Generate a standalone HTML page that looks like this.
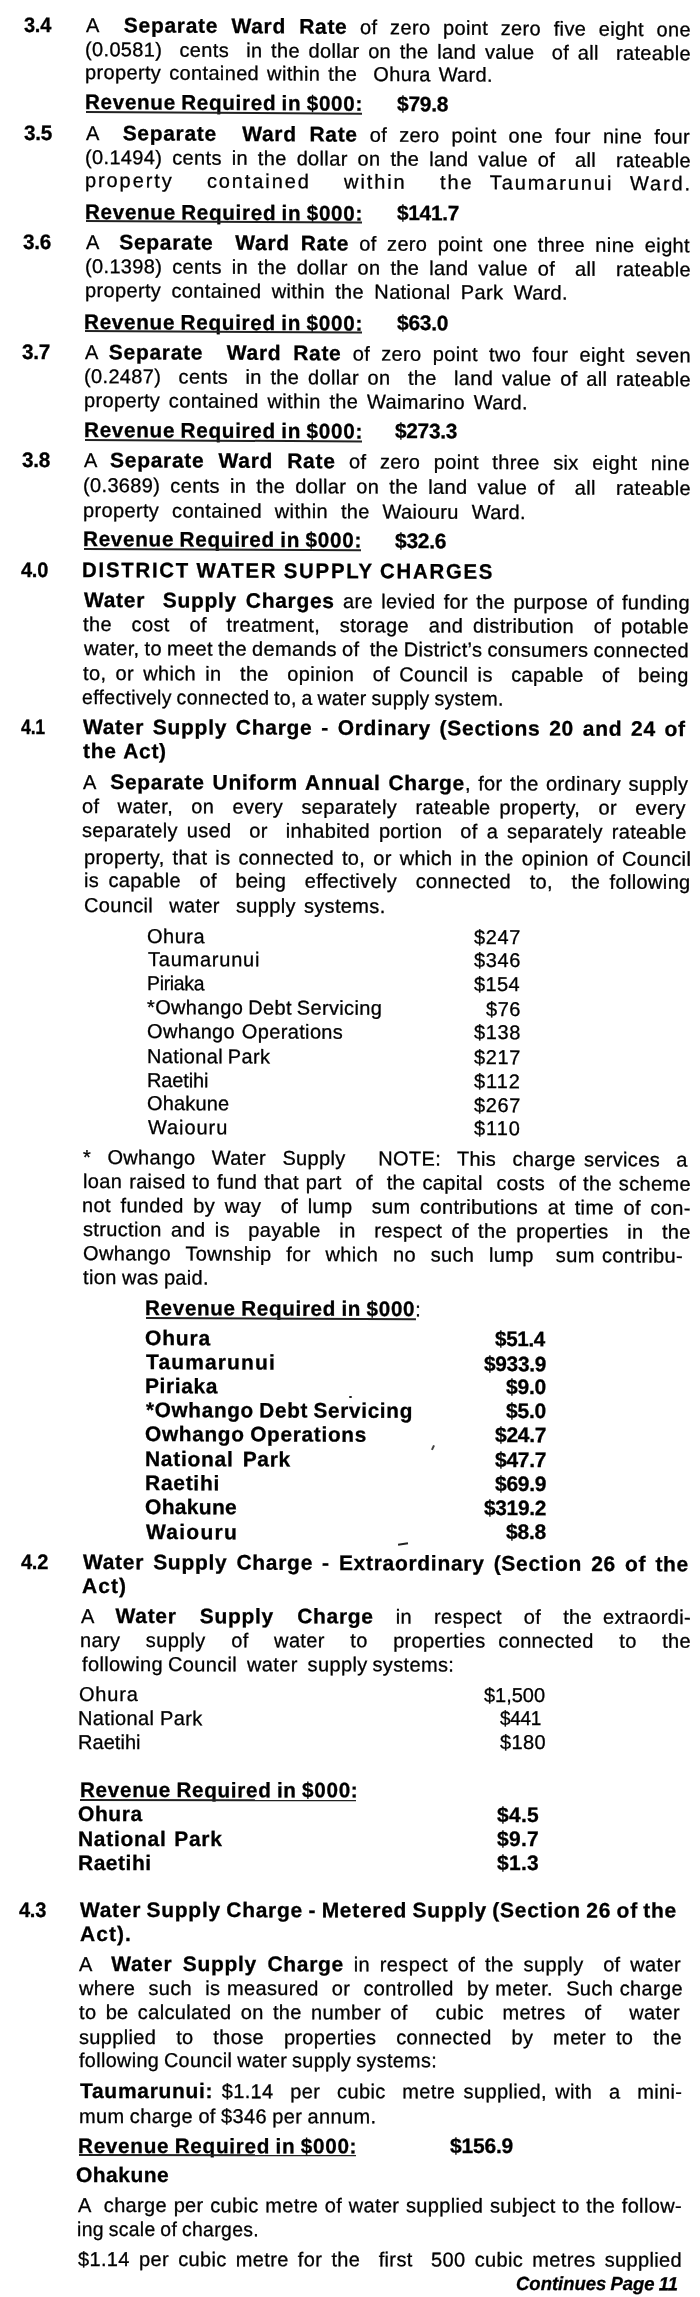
<!DOCTYPE html><html><head><meta charset="utf-8"><style>
html,body{margin:0;padding:0;background:#fff}
body{filter:grayscale(1);width:700px;height:2297px;position:relative;overflow:hidden;font-family:"Liberation Sans",sans-serif;color:#000}
.l{position:absolute;white-space:pre;transform-origin:0 17px;font-size:20px;line-height:20px;-webkit-text-stroke:0.3px #000}
.l b{font-weight:bold;font-size:21px}
.bi{font-weight:bold;font-style:italic;font-size:19px}
.u{position:absolute;background:#222;transform-origin:0 0}
.dot{position:absolute;background:#999;border-radius:50%}
</style></head><body>
<div class="l" style="left:24.00px;top:14.90px;word-spacing:0.000px;transform:skewY(0.4154deg) scaleX(0.9540)"><b style="letter-spacing:-0.300px">3.4</b></div>
<div class="l" style="left:86.00px;top:14.90px;word-spacing:6.713px;transform:skewY(0.4154deg)"><span style="letter-spacing:0.350px">A  </span><b style="letter-spacing:0.700px">Separate Ward Rate</b><span style="letter-spacing:0.350px"> of zero point zero five eight one</span></div>
<div class="l" style="left:85.00px;top:38.70px;word-spacing:2.688px;transform:skewY(0.3988deg)"><span style="letter-spacing:0.350px">(0.0581)  cents  in the dollar on the land value  of all  rateable</span></div>
<div class="l" style="left:85.00px;top:61.60px;word-spacing:2.120px;transform:skewY(0.3829deg)"><span style="letter-spacing:0.350px">property contained within the  Ohura Ward.</span></div>
<div class="l" style="left:85.00px;top:92.00px;word-spacing:-1.000px;transform:skewY(0.3618deg) scaleX(0.9825)"><b style="letter-spacing:0.700px">Revenue Required in $000:</b></div>
<div class="l" style="left:397.00px;top:93.94px;word-spacing:0.000px;transform:skewY(0.3618deg)"><b style="letter-spacing:-0.300px">$79.8</b></div>
<div class="l" style="left:24.00px;top:122.70px;word-spacing:0.000px;transform:skewY(0.3405deg) scaleX(0.9893)"><b style="letter-spacing:-0.300px">3.5</b></div>
<div class="l" style="left:86.00px;top:122.70px;word-spacing:6.109px;transform:skewY(0.3405deg)"><span style="letter-spacing:0.350px">A  </span><b style="letter-spacing:0.700px">Separate  Ward Rate</b><span style="letter-spacing:0.350px"> of zero point one four nine four</span></div>
<div class="l" style="left:85.00px;top:147.00px;word-spacing:4.010px;transform:skewY(0.3236deg)"><span style="letter-spacing:0.350px">(0.1494) cents in the dollar on the land value of  all  rateable</span></div>
<div class="l" style="left:85.00px;top:170.40px;word-spacing:9.208px;transform:skewY(0.3207deg)"><span style="letter-spacing:1.900px">property  contained  within  the Taumarunui Ward.</span></div>
<div class="l" style="left:85.00px;top:201.50px;word-spacing:-1.000px;transform:skewY(0.3176deg) scaleX(0.9825)"><b style="letter-spacing:0.700px">Revenue Required in $000:</b></div>
<div class="l" style="left:397.00px;top:203.20px;word-spacing:0.000px;transform:skewY(0.3176deg) scaleX(0.9930)"><b style="letter-spacing:-0.300px">$141.7</b></div>
<div class="l" style="left:23.00px;top:232.00px;word-spacing:0.000px;transform:skewY(0.3146deg) scaleX(0.9893)"><b style="letter-spacing:-0.300px">3.6</b></div>
<div class="l" style="left:86.00px;top:232.00px;word-spacing:4.381px;transform:skewY(0.3146deg)"><span style="letter-spacing:0.350px">A  </span><b style="letter-spacing:0.700px">Separate  Ward Rate</b><span style="letter-spacing:0.350px"> of zero point one three nine eight</span></div>
<div class="l" style="left:85.00px;top:256.00px;word-spacing:4.010px;transform:skewY(0.3122deg)"><span style="letter-spacing:0.350px">(0.1398) cents in the dollar on the land value of  all  rateable</span></div>
<div class="l" style="left:85.00px;top:280.00px;word-spacing:4.394px;transform:skewY(0.3098deg)"><span style="letter-spacing:0.350px">property contained within the National Park Ward.</span></div>
<div class="l" style="left:84.00px;top:311.60px;word-spacing:-1.000px;transform:skewY(0.3067deg) scaleX(0.9861)"><b style="letter-spacing:0.700px">Revenue Required in $000:</b></div>
<div class="l" style="left:397.00px;top:313.24px;word-spacing:0.000px;transform:skewY(0.3067deg)"><b style="letter-spacing:-0.300px">$63.0</b></div>
<div class="l" style="left:22.00px;top:342.00px;word-spacing:0.000px;transform:skewY(0.3037deg) scaleX(0.9893)"><b style="letter-spacing:-0.300px">3.7</b></div>
<div class="l" style="left:85.00px;top:342.00px;word-spacing:5.300px;transform:skewY(0.3037deg)"><span style="letter-spacing:0.350px">A </span><b style="letter-spacing:0.700px">Separate  Ward Rate</b><span style="letter-spacing:0.350px"> of zero point two four eight seven</span></div>
<div class="l" style="left:84.00px;top:365.90px;word-spacing:2.755px;transform:skewY(0.3013deg)"><span style="letter-spacing:0.350px">(0.2487)  cents  in the dollar on  the  land value of all rateable</span></div>
<div class="l" style="left:84.00px;top:389.90px;word-spacing:2.797px;transform:skewY(0.2989deg)"><span style="letter-spacing:0.350px">property contained within the Waimarino Ward.</span></div>
<div class="l" style="left:84.00px;top:419.90px;word-spacing:-1.000px;transform:skewY(0.2960deg) scaleX(0.9861)"><b style="letter-spacing:0.700px">Revenue Required in $000:</b></div>
<div class="l" style="left:395.00px;top:421.48px;word-spacing:0.000px;transform:skewY(0.2960deg) scaleX(0.9930)"><b style="letter-spacing:-0.300px">$273.3</b></div>
<div class="l" style="left:22.00px;top:450.10px;word-spacing:0.000px;transform:skewY(0.2930deg) scaleX(0.9893)"><b style="letter-spacing:-0.300px">3.8</b></div>
<div class="l" style="left:84.00px;top:450.10px;word-spacing:7.597px;transform:skewY(0.2930deg)"><span style="letter-spacing:0.350px">A </span><b style="letter-spacing:0.700px">Separate Ward Rate</b><span style="letter-spacing:0.350px"> of zero point three six eight nine</span></div>
<div class="l" style="left:83.00px;top:474.90px;word-spacing:4.164px;transform:skewY(0.2864deg)"><span style="letter-spacing:0.350px">(0.3689) cents in the dollar on the land value of  all  rateable</span></div>
<div class="l" style="left:83.00px;top:499.70px;word-spacing:6.959px;transform:skewY(0.2755deg)"><span style="letter-spacing:0.350px">property contained within the Waiouru Ward.</span></div>
<div class="l" style="left:83.00px;top:529.40px;word-spacing:-1.000px;transform:skewY(0.2623deg) scaleX(0.9861)"><b style="letter-spacing:0.700px">Revenue Required in $000:</b></div>
<div class="l" style="left:395.00px;top:530.80px;word-spacing:0.000px;transform:skewY(0.2623deg)"><b style="letter-spacing:-0.300px">$32.6</b></div>
<div class="l" style="left:21.00px;top:559.90px;word-spacing:0.000px;transform:skewY(0.2489deg) scaleX(0.9540)"><b style="letter-spacing:-0.300px">4.0</b></div>
<div class="l" style="left:81.80px;top:559.90px;word-spacing:-1.000px;transform:skewY(0.2489deg) scaleX(0.9710)"><b style="letter-spacing:1.800px">DISTRICT WATER SUPPLY CHARGES</b></div>
<div class="l" style="left:84.00px;top:590.40px;word-spacing:2.311px;transform:skewY(0.2354deg)"><b style="letter-spacing:0.700px">Water  Supply Charges</b><span style="letter-spacing:0.350px"> are levied for the purpose of funding</span></div>
<div class="l" style="left:83.00px;top:614.10px;word-spacing:3.965px;transform:skewY(0.2249deg)"><span style="letter-spacing:0.350px">the  cost  of  treatment,  storage  and distribution  of potable</span></div>
<div class="l" style="left:84.00px;top:638.40px;word-spacing:-0.767px;transform:skewY(0.2158deg)"><span style="letter-spacing:0.350px">water, to meet the demands of  the District’s consumers connected</span></div>
<div class="l" style="left:83.40px;top:662.70px;word-spacing:3.307px;transform:skewY(0.2090deg)"><span style="letter-spacing:0.350px">to, or which in  the  opinion  of Council is  capable  of  being</span></div>
<div class="l" style="left:82.20px;top:686.60px;word-spacing:-1.000px;transform:skewY(0.2023deg) scaleX(0.9719)"><span style="letter-spacing:0.350px">effectively connected to, a water supply system.</span></div>
<div class="l" style="left:21.00px;top:716.90px;word-spacing:0.000px;transform:skewY(0.1937deg) scaleX(0.8480)"><b style="letter-spacing:-0.300px">4.1</b></div>
<div class="l" style="left:83.20px;top:716.90px;word-spacing:2.262px;transform:skewY(0.1937deg)"><b style="letter-spacing:0.700px">Water Supply Charge - Ordinary (Sections 20 and 24 of</b></div>
<div class="l" style="left:83.20px;top:740.90px;word-spacing:0.809px;transform:skewY(0.1870deg)"><b style="letter-spacing:0.700px">the Act)</b></div>
<div class="l" style="left:82.60px;top:771.60px;word-spacing:1.421px;transform:skewY(0.1783deg)"><span style="letter-spacing:0.350px">A  </span><b style="letter-spacing:0.700px">Separate Uniform Annual Charge</b><span style="letter-spacing:0.350px">, for the ordinary supply</span></div>
<div class="l" style="left:82.20px;top:795.90px;word-spacing:3.211px;transform:skewY(0.1715deg)"><span style="letter-spacing:0.350px">of  water,  on  every  separately  rateable property,  or  every</span></div>
<div class="l" style="left:82.20px;top:819.90px;word-spacing:3.014px;transform:skewY(0.1684deg)"><span style="letter-spacing:0.350px">separately used  or  inhabited portion  of a separately rateable</span></div>
<div class="l" style="left:83.80px;top:847.30px;word-spacing:2.093px;transform:skewY(0.1751deg)"><span style="letter-spacing:0.350px">property, that is connected to, or which in the opinion of Council</span></div>
<div class="l" style="left:84.40px;top:870.40px;word-spacing:3.372px;transform:skewY(0.1807deg)"><span style="letter-spacing:0.350px">is capable  of  being  effectively  connected  to,  the following</span></div>
<div class="l" style="left:84.40px;top:895.10px;word-spacing:2.128px;transform:skewY(0.1868deg)"><span style="letter-spacing:0.350px">Council  water  supply systems.</span></div>
<div class="l" style="left:146.80px;top:925.90px;word-spacing:0.000px;transform:skewY(0.1944deg)"><span style="letter-spacing:0.521px">Ohura</span></div>
<div class="l" style="left:474.00px;top:927.00px;word-spacing:0.000px;transform:skewY(0.1944deg)"><span style="letter-spacing:0.625px">$247</span></div>
<div class="l" style="left:147.80px;top:949.10px;word-spacing:0.000px;transform:skewY(0.2000deg)"><span style="letter-spacing:0.768px">Taumarunui</span></div>
<div class="l" style="left:474.00px;top:950.23px;word-spacing:0.000px;transform:skewY(0.2000deg)"><span style="letter-spacing:0.625px">$346</span></div>
<div class="l" style="left:146.80px;top:973.00px;word-spacing:0.000px;transform:skewY(0.2059deg) scaleX(0.9688)"><span style="letter-spacing:-0.300px">Piriaka</span></div>
<div class="l" style="left:474.00px;top:974.16px;word-spacing:0.000px;transform:skewY(0.2059deg)"><span style="letter-spacing:0.375px">$154</span></div>
<div class="l" style="left:146.80px;top:997.30px;word-spacing:-0.933px;transform:skewY(0.2118deg)"><span style="letter-spacing:0.350px">*Owhango Debt Servicing</span></div>
<div class="l" style="left:486.00px;top:998.54px;word-spacing:0.000px;transform:skewY(0.2118deg)"><span style="letter-spacing:0.542px">$76</span></div>
<div class="l" style="left:146.80px;top:1020.90px;word-spacing:0.884px;transform:skewY(0.2175deg)"><span style="letter-spacing:0.350px">Owhango Operations</span></div>
<div class="l" style="left:474.00px;top:1022.13px;word-spacing:0.000px;transform:skewY(0.2175deg)"><span style="letter-spacing:0.625px">$138</span></div>
<div class="l" style="left:146.80px;top:1046.10px;word-spacing:-1.000px;transform:skewY(0.2236deg) scaleX(0.9967)"><span style="letter-spacing:0.350px">National Park</span></div>
<div class="l" style="left:474.00px;top:1047.36px;word-spacing:0.000px;transform:skewY(0.2236deg)"><span style="letter-spacing:0.625px">$217</span></div>
<div class="l" style="left:146.80px;top:1069.90px;word-spacing:0.000px;transform:skewY(0.2294deg)"><span style="letter-spacing:-0.152px">Raetihi</span></div>
<div class="l" style="left:474.00px;top:1071.20px;word-spacing:0.000px;transform:skewY(0.2294deg)"><span style="letter-spacing:0.996px">$112</span></div>
<div class="l" style="left:146.80px;top:1093.30px;word-spacing:0.000px;transform:skewY(0.2351deg)"><span style="letter-spacing:0.147px">Ohakune</span></div>
<div class="l" style="left:474.00px;top:1094.63px;word-spacing:0.000px;transform:skewY(0.2351deg)"><span style="letter-spacing:0.625px">$267</span></div>
<div class="l" style="left:147.80px;top:1116.60px;word-spacing:0.000px;transform:skewY(0.2407deg)"><span style="letter-spacing:0.924px">Waiouru</span></div>
<div class="l" style="left:474.00px;top:1117.96px;word-spacing:0.000px;transform:skewY(0.2407deg)"><span style="letter-spacing:0.996px">$110</span></div>
<div class="l" style="left:83.20px;top:1147.00px;word-spacing:2.236px;transform:skewY(0.2481deg)"><span style="letter-spacing:0.350px">*  Owhango  Water  Supply    NOTE:  This  charge services  a</span></div>
<div class="l" style="left:83.00px;top:1171.10px;word-spacing:1.006px;transform:skewY(0.2539deg)"><span style="letter-spacing:0.350px">loan raised to fund that part  of  the capital  costs  of the scheme</span></div>
<div class="l" style="left:82.20px;top:1195.10px;word-spacing:3.714px;transform:skewY(0.2597deg)"><span style="letter-spacing:0.350px">not funded by way  of lump  sum contributions at time of con-</span></div>
<div class="l" style="left:83.20px;top:1219.40px;word-spacing:3.353px;transform:skewY(0.2564deg)"><span style="letter-spacing:0.350px">struction and is  payable  in  respect of the properties  in  the</span></div>
<div class="l" style="left:83.00px;top:1243.40px;word-spacing:1.450px;transform:skewY(0.2518deg)"><span style="letter-spacing:0.350px">Owhango  Township  for  which  no  such  lump   sum contribu-</span></div>
<div class="l" style="left:83.00px;top:1267.30px;word-spacing:-0.598px;transform:skewY(0.2473deg)"><span style="letter-spacing:0.350px">tion was paid.</span></div>
<div class="l" style="left:145.00px;top:1298.40px;word-spacing:-1.000px;transform:skewY(0.2414deg) scaleX(0.9817)"><b style="letter-spacing:0.700px">Revenue Required in $000</b><span style="letter-spacing:0.350px">:</span></div>
<div class="l" style="left:145.00px;top:1328.00px;word-spacing:0.000px;transform:skewY(0.2358deg)"><b style="letter-spacing:0.831px">Ohura</b></div>
<div class="l" style="left:495.00px;top:1329.42px;word-spacing:0.000px;transform:skewY(0.2358deg) scaleX(0.9792)"><b style="letter-spacing:-0.300px">$51.4</b></div>
<div class="l" style="left:146.00px;top:1352.30px;word-spacing:0.000px;transform:skewY(0.2312deg)"><b style="letter-spacing:1.137px">Taumarunui</b></div>
<div class="l" style="left:484.00px;top:1353.65px;word-spacing:0.000px;transform:skewY(0.2312deg) scaleX(0.9930)"><b style="letter-spacing:-0.300px">$933.9</b></div>
<div class="l" style="left:145.00px;top:1376.10px;word-spacing:0.000px;transform:skewY(0.2214deg)"><b style="letter-spacing:0.587px">Piriaka</b></div>
<div class="l" style="left:506.00px;top:1377.48px;word-spacing:0.000px;transform:skewY(0.2214deg)"><b style="letter-spacing:-0.219px">$9.0</b></div>
<div class="l" style="left:146.00px;top:1400.10px;word-spacing:-1.000px;transform:skewY(0.2072deg) scaleX(0.9859)"><b style="letter-spacing:0.700px">*Owhango Debt Servicing</b></div>
<div class="l" style="left:506.00px;top:1401.39px;word-spacing:0.000px;transform:skewY(0.2072deg)"><b style="letter-spacing:-0.219px">$5.0</b></div>
<div class="l" style="left:145.00px;top:1424.00px;word-spacing:-1.000px;transform:skewY(0.1930deg) scaleX(0.9913)"><b style="letter-spacing:0.700px">Owhango Operations</b></div>
<div class="l" style="left:495.00px;top:1425.16px;word-spacing:0.000px;transform:skewY(0.1930deg)"><b style="letter-spacing:-0.300px">$24.7</b></div>
<div class="l" style="left:145.00px;top:1448.70px;word-spacing:2.681px;transform:skewY(0.1784deg)"><b style="letter-spacing:0.700px">National Park</b></div>
<div class="l" style="left:495.00px;top:1449.77px;word-spacing:0.000px;transform:skewY(0.1784deg)"><b style="letter-spacing:-0.300px">$47.7</b></div>
<div class="l" style="left:145.00px;top:1473.00px;word-spacing:0.000px;transform:skewY(0.1640deg)"><b style="letter-spacing:0.712px">Raetihi</b></div>
<div class="l" style="left:495.00px;top:1473.99px;word-spacing:0.000px;transform:skewY(0.1640deg)"><b style="letter-spacing:-0.300px">$69.9</b></div>
<div class="l" style="left:145.00px;top:1497.30px;word-spacing:0.000px;transform:skewY(0.1496deg)"><b style="letter-spacing:0.306px">Ohakune</b></div>
<div class="l" style="left:484.00px;top:1498.17px;word-spacing:0.000px;transform:skewY(0.1496deg) scaleX(0.9930)"><b style="letter-spacing:-0.300px">$319.2</b></div>
<div class="l" style="left:146.00px;top:1521.50px;word-spacing:0.000px;transform:skewY(0.1353deg)"><b style="letter-spacing:1.254px">Waiouru</b></div>
<div class="l" style="left:506.00px;top:1522.34px;word-spacing:0.000px;transform:skewY(0.1353deg)"><b style="letter-spacing:-0.219px">$8.8</b></div>
<div class="l" style="left:21.00px;top:1551.60px;word-spacing:0.000px;transform:skewY(0.1175deg) scaleX(0.9540)"><b style="letter-spacing:-0.300px">4.2</b></div>
<div class="l" style="left:83.00px;top:1551.60px;word-spacing:2.566px;transform:skewY(0.2188deg)"><b style="letter-spacing:0.700px">Water Supply Charge - Extraordinary (Section 26 of the</b></div>
<div class="l" style="left:82.00px;top:1575.60px;word-spacing:0.000px;transform:skewY(0.1032deg)"><b style="letter-spacing:1.039px">Act)</b></div>
<div class="l" style="left:81.00px;top:1605.90px;word-spacing:5.063px;transform:skewY(0.0853deg)"><span style="letter-spacing:0.350px">A  </span><b style="letter-spacing:0.700px">Water  Supply  Charge</b><span style="letter-spacing:0.350px">  in  respect  of  the extraordi-</span></div>
<div class="l" style="left:80.00px;top:1630.10px;word-spacing:6.844px;transform:skewY(0.0766deg)"><span style="letter-spacing:0.350px">nary  supply  of  water  to  properties connected  to  the</span></div>
<div class="l" style="left:81.80px;top:1654.10px;word-spacing:-0.939px;transform:skewY(0.0736deg)"><span style="letter-spacing:0.350px">following Council  water  supply systems:</span></div>
<div class="l" style="left:79.40px;top:1684.10px;word-spacing:0.000px;transform:skewY(0.0699deg)"><span style="letter-spacing:0.801px">Ohura</span></div>
<div class="l" style="left:484.00px;top:1684.58px;word-spacing:0.000px;transform:skewY(0.0699deg)"><span style="letter-spacing:-0.029px">$1,500</span></div>
<div class="l" style="left:78.40px;top:1708.00px;word-spacing:-0.013px;transform:skewY(0.0669deg)"><span style="letter-spacing:0.350px">National Park</span></div>
<div class="l" style="left:500.00px;top:1708.48px;word-spacing:0.000px;transform:skewY(0.0669deg) scaleX(0.9469)"><span style="letter-spacing:-0.300px">$441</span></div>
<div class="l" style="left:78.40px;top:1731.90px;word-spacing:0.000px;transform:skewY(0.0639deg)"><span style="letter-spacing:0.048px">Raetihi</span></div>
<div class="l" style="left:500.00px;top:1732.36px;word-spacing:0.000px;transform:skewY(0.0639deg)"><span style="letter-spacing:0.375px">$180</span></div>
<div class="l" style="left:79.60px;top:1780.10px;word-spacing:-1.000px;transform:skewY(0.0579deg) scaleX(0.9840)"><b style="letter-spacing:0.700px">Revenue Required in $000:</b></div>
<div class="l" style="left:78.20px;top:1804.40px;word-spacing:0.000px;transform:skewY(0.0548deg)"><b style="letter-spacing:0.591px">Ohura</b></div>
<div class="l" style="left:497.00px;top:1804.79px;word-spacing:0.000px;transform:skewY(0.0548deg)"><b style="letter-spacing:0.281px">$4.5</b></div>
<div class="l" style="left:78.40px;top:1828.70px;word-spacing:1.281px;transform:skewY(0.0518deg)"><b style="letter-spacing:0.700px">National Park</b></div>
<div class="l" style="left:497.00px;top:1829.07px;word-spacing:0.000px;transform:skewY(0.0518deg)"><b style="letter-spacing:0.281px">$9.7</b></div>
<div class="l" style="left:78.40px;top:1852.60px;word-spacing:0.000px;transform:skewY(0.0488deg)"><b style="letter-spacing:0.512px">Raetihi</b></div>
<div class="l" style="left:497.00px;top:1852.95px;word-spacing:0.000px;transform:skewY(0.0488deg)"><b style="letter-spacing:0.281px">$1.3</b></div>
<div class="l" style="left:19.00px;top:1899.90px;word-spacing:0.000px;transform:skewY(0.0429deg) scaleX(0.9540)"><b style="letter-spacing:-0.300px">4.3</b></div>
<div class="l" style="left:80.40px;top:1899.90px;word-spacing:-1.000px;transform:skewY(0.0429deg)"><b style="letter-spacing:0.700px">Water Supply Charge - Metered Supply (Section 26 of the</b></div>
<div class="l" style="left:80.00px;top:1924.10px;word-spacing:0.000px;transform:skewY(0.0399deg)"><b style="letter-spacing:1.066px">Act).</b></div>
<div class="l" style="left:79.00px;top:1954.10px;word-spacing:3.912px;transform:skewY(0.0361deg)"><span style="letter-spacing:0.350px">A  </span><b style="letter-spacing:0.700px">Water Supply Charge</b><span style="letter-spacing:0.350px"> in respect of the supply  of water</span></div>
<div class="l" style="left:79.00px;top:1978.30px;word-spacing:0.681px;transform:skewY(0.0331deg)"><span style="letter-spacing:0.350px">where  such  is measured  or  controlled  by meter.  Such charge</span></div>
<div class="l" style="left:79.00px;top:2002.30px;word-spacing:3.363px;transform:skewY(0.0325deg)"><span style="letter-spacing:0.350px">to be calculated on the number of   cubic  metres  of   water</span></div>
<div class="l" style="left:79.00px;top:2026.60px;word-spacing:4.015px;transform:skewY(0.0358deg)"><span style="letter-spacing:0.350px">supplied  to  those  properties  connected  by  meter to  the</span></div>
<div class="l" style="left:79.00px;top:2050.10px;word-spacing:-1.000px;transform:skewY(0.0390deg) scaleX(0.9889)"><span style="letter-spacing:0.350px">following Council water supply systems:</span></div>
<div class="l" style="left:79.60px;top:2081.30px;word-spacing:2.499px;transform:skewY(0.0433deg)"><b style="letter-spacing:0.700px">Taumarunui:</b><span style="letter-spacing:0.350px"> $1.14  per  cubic  metre supplied, with  a  mini-</span></div>
<div class="l" style="left:78.60px;top:2105.60px;word-spacing:-0.584px;transform:skewY(0.0466deg)"><span style="letter-spacing:0.350px">mum charge of $346 per annum.</span></div>
<div class="l" style="left:77.80px;top:2135.60px;word-spacing:-1.000px;transform:skewY(0.0506deg) scaleX(0.9868)"><b style="letter-spacing:0.700px">Revenue Required in $000:</b></div>
<div class="l" style="left:450.00px;top:2135.92px;word-spacing:0.000px;transform:skewY(0.0506deg)"><b style="letter-spacing:-0.206px">$156.9</b></div>
<div class="l" style="left:75.80px;top:2165.10px;word-spacing:0.000px;transform:skewY(0.0546deg)"><b style="letter-spacing:0.477px">Ohakune</b></div>
<div class="l" style="left:78.00px;top:2195.40px;word-spacing:0.697px;transform:skewY(0.0588deg)"><span style="letter-spacing:0.350px">A  charge per cubic metre of water supplied subject to the follow-</span></div>
<div class="l" style="left:77.00px;top:2219.00px;word-spacing:-1.000px;transform:skewY(0.0620deg) scaleX(0.9692)"><span style="letter-spacing:0.350px">ing scale of charges.</span></div>
<div class="l" style="left:78.00px;top:2249.40px;word-spacing:3.288px;transform:skewY(0.0625deg)"><span style="letter-spacing:0.350px">$1.14 per cubic metre for the  first  500 cubic metres supplied</span></div>
<div class="l bi" style="left:516.00px;top:2274.20px;word-spacing:-1.000px;transform:skewY(0.0625deg) scaleX(0.9724)"><span style="letter-spacing:0.000px">Continues Page 11</span></div>
<div class="u" style="left:86.0px;top:110.8px;width:276.0px;height:1.6px;transform:skewY(0.3618deg)"></div>
<div class="u" style="left:86.0px;top:220.3px;width:276.0px;height:1.6px;transform:skewY(0.3176deg)"></div>
<div class="u" style="left:85.0px;top:330.4px;width:277.0px;height:1.6px;transform:skewY(0.3067deg)"></div>
<div class="u" style="left:85.0px;top:438.7px;width:277.0px;height:1.6px;transform:skewY(0.2960deg)"></div>
<div class="u" style="left:84.0px;top:548.2px;width:277.0px;height:1.6px;transform:skewY(0.2623deg)"></div>
<div class="u" style="left:146.0px;top:1317.2px;width:270.0px;height:1.6px;transform:skewY(0.2414deg)"></div>
<div class="u" style="left:80.3px;top:1798.9px;width:275.7px;height:1.6px;transform:skewY(0.0579deg)"></div>
<div class="u" style="left:78.9px;top:2154.4px;width:277.1px;height:1.6px;transform:skewY(0.0506deg)"></div>
<div style="position:absolute;left:349px;top:1396px;width:2.5px;height:2px;background:#222;border-radius:1px"></div>
<div style="position:absolute;left:432px;top:1445px;width:1.5px;height:5px;background:#444;transform:rotate(25deg)"></div>
<div style="position:absolute;left:398px;top:1543px;width:10px;height:1.6px;background:#222;transform:rotate(-8deg)"></div>
</body></html>
